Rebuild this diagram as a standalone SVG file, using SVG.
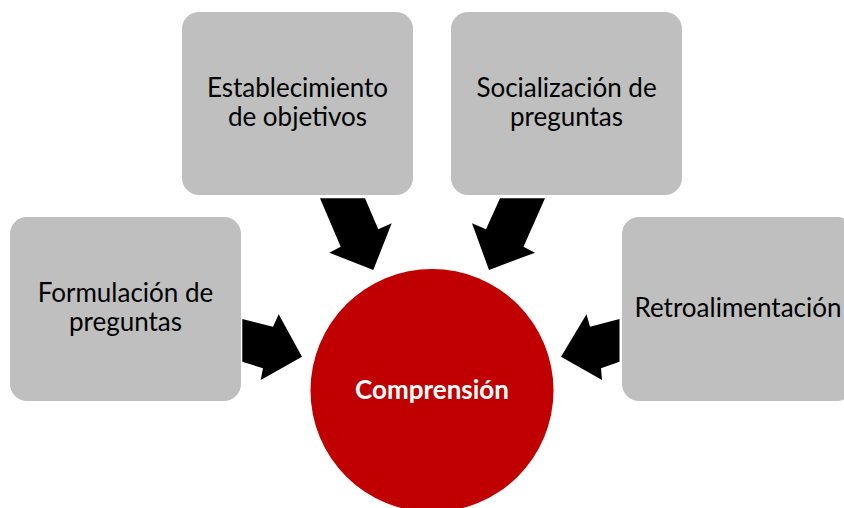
<svg xmlns="http://www.w3.org/2000/svg" width="844" height="508" viewBox="0 0 844 508">
<style>
.box{fill:#bfbfbf}
.lbl{font-family:Lato,"Open Sans","Liberation Sans",sans-serif;font-size:26px;fill:#000;text-anchor:middle}
.ctr{font-family:Lato,"Open Sans","Liberation Sans",sans-serif;font-size:26px;font-weight:bold;fill:#fff;text-anchor:middle}
.arr{fill:#000}
</style>
<rect width="844" height="508" fill="#fff"/>
<g id="node-establecimiento">
<rect class="box" x="182" y="12" width="231" height="183" rx="17"/>
<text class="lbl" x="297.5" y="97"><tspan x="297.5">Establecimiento</tspan><tspan x="297.5" dy="29">de objetivos</tspan></text>
</g>
<g id="node-socializacion">
<rect class="box" x="451" y="12" width="231" height="183" rx="17"/>
<text class="lbl" x="566.5" y="97"><tspan x="566.5">Socialización de</tspan><tspan x="566.5" dy="29">preguntas</tspan></text>
</g>
<g id="node-formulacion">
<rect class="box" x="10" y="217" width="231" height="184" rx="17"/>
<text class="lbl" x="125.5" y="302"><tspan x="125.5">Formulación de</tspan><tspan x="125.5" dy="29">preguntas</tspan></text>
</g>
<g id="node-retroalimentacion">
<rect class="box" x="622" y="217" width="232" height="184" rx="17"/>
<text class="lbl" x="738" y="317">Retroalimentación</text>
</g>
<g id="node-comprension">
<circle cx="432" cy="390.5" r="121.5" fill="#c00000"/>
<text class="ctr" x="432" y="399">Comprensión</text>
</g>
<g id="connectors">
<polygon class="arr" points="242.3,319 273,326.7 278.7,314.3 302,356.7 260.7,380 263,368.3 242.3,361.7"/>
<polygon class="arr" points="320,198.3 365,198.3 378.3,229.3 391.7,223.3 373.3,270 329.3,252.7 340.7,246.7"/>
<polygon class="arr" points="545,198.3 500,198.3 486,229.3 472,223.3 489,270 535,252.7 523.5,246.7"/>
<polygon class="arr" points="619.5,319 590,326.7 586.5,314.3 561,356.7 602,380 601,368.3 619.5,361.7"/>
</g>
</svg>
